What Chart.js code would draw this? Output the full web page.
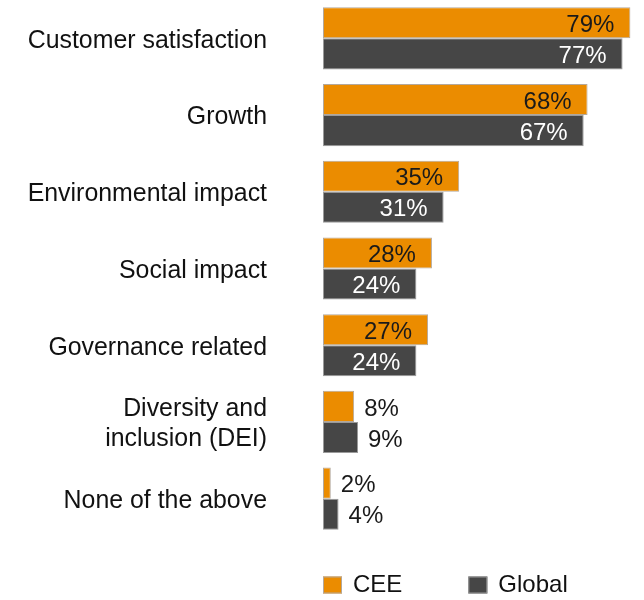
<!DOCTYPE html>
<html>
<head>
<meta charset="utf-8">
<style>
  html, body { margin: 0; padding: 0; background: #ffffff; }
  #wrap { width: 644px; height: 600px; position: relative; }
</style>
<script src="https://cdn.jsdelivr.net/npm/chart.js@4.4.1/dist/chart.umd.min.js"></script>
</head>
<body>
<div id="wrap"><canvas id="chart" width="644" height="600"></canvas></div>
<script>
// Survey answers: share of respondents (%), CEE vs. Global
const categories = [
  'Customer satisfaction',
  'Growth',
  'Environmental impact',
  'Social impact',
  'Governance related',
  ['Diversity and', 'inclusion (DEI)'],
  'None of the above'
];
const ceeValues = [79, 68, 35, 28, 27, 8, 2];
const globalValues = [77, 67, 31, 24, 24, 9, 4];
const seriesNames = ['CEE', 'Global'];

const FONT = "'Liberation Sans', Arial, Helvetica, sans-serif";
const ORANGE = '#EB8C00';
const DARK = '#464646';

// Percent labels: inside the bar end for long bars, just past it for short ones
const valueLabels = {
  id: 'valueLabels',
  afterDatasetsDraw(chart) {
    const ctx = chart.ctx;
    ctx.save();
    ctx.font = '24px ' + FONT;
    ctx.textBaseline = 'middle';
    chart.data.datasets.forEach((ds, di) => {
      const meta = chart.getDatasetMeta(di);
      meta.data.forEach((bar, i) => {
        const v = ds.data[i];
        const text = v + '%';
        if (v >= 20) {
          ctx.textAlign = 'right';
          ctx.fillStyle = di === 0 ? '#1a1a1a' : '#ffffff';
          ctx.fillText(text, bar.x - 16, bar.y + 2.5);
        } else {
          ctx.textAlign = 'left';
          ctx.fillStyle = '#1a1a1a';
          ctx.fillText(text, bar.x + 10, bar.y + 2.5);
        }
      });
    });
    ctx.restore();
  }
};

// Series key under the plot, starting at the bars' baseline
const seriesKey = {
  id: 'seriesKey',
  afterDraw(chart) {
    const ctx = chart.ctx;
    const area = chart.chartArea;
    const box = { w: 19, h: 17 };
    const cy = area.bottom + 48;
    let x = area.left;
    ctx.save();
    ctx.font = '24px ' + FONT;
    ctx.textBaseline = 'middle';
    ctx.textAlign = 'left';
    chart.data.datasets.forEach((ds) => {
      ctx.fillStyle = ds.backgroundColor;
      ctx.fillRect(x, cy - box.h / 2, box.w, box.h);
      ctx.strokeStyle = ds.borderColor;
      ctx.lineWidth = 1;
      ctx.strokeRect(x + 0.5, cy - box.h / 2 + 0.5, box.w - 1, box.h - 1);
      ctx.fillStyle = '#111111';
      const tx = x + box.w + 11;
      ctx.fillText(ds.label, tx, cy);
      x = tx + ctx.measureText(ds.label).width + 66;
    });
    ctx.restore();
  }
};

new Chart(document.getElementById('chart'), {
  type: 'bar',
  data: {
    labels: categories,
    datasets: [
      {
        label: seriesNames[0],
        data: ceeValues,
        backgroundColor: ORANGE,
        borderColor: '#b3a89c',
        borderWidth: 1,
        borderSkipped: false,
        barPercentage: 1,
        categoryPercentage: 0.81
      },
      {
        label: seriesNames[1],
        data: globalValues,
        backgroundColor: DARK,
        borderColor: '#9a9a9a',
        borderWidth: 1,
        borderSkipped: false,
        barPercentage: 1,
        categoryPercentage: 0.81
      }
    ]
  },
  options: {
    indexAxis: 'y',
    responsive: false,
    animation: false,
    devicePixelRatio: 1,
    layout: { padding: { left: 0, right: 0, top: 0, bottom: 63 } },
    scales: {
      x: {
        display: false,
        min: 0,
        max: 82.5
      },
      y: {
        grid: { display: false, drawTicks: false },
        border: { display: false },
        ticks: {
          autoSkip: false,
          padding: 56,
          labelOffset: 2.5,
          color: '#111111',
          font: { family: FONT, size: 24.9, lineHeight: 1.205 }
        },
        afterFit(scale) {
          scale.width = 323;
          // category bands already sit inside the plot; no extra edge room needed
          scale.paddingTop = 0;
          scale.paddingBottom = 0;
        }
      }
    },
    plugins: {
      legend: { display: false },
      tooltip: { enabled: false }
    }
  },
  plugins: [valueLabels, seriesKey]
});
</script>
</body>
</html>
